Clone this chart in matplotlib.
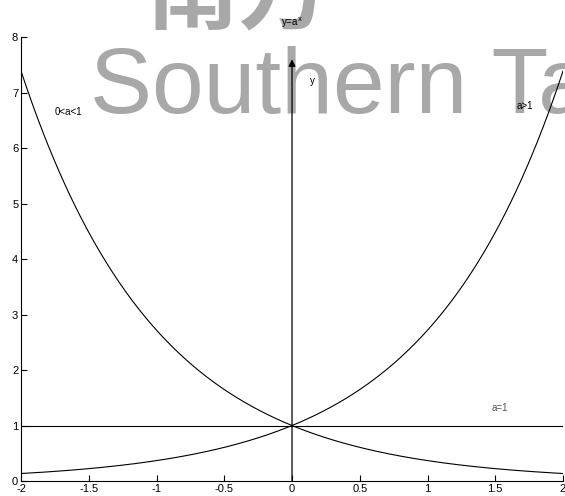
import matplotlib.pyplot as plt
import numpy as np

# data: y = a^x for a = e (a>1), a = 1/e (0<a<1), a = 1
x_min, x_max = -2, 2
y_min, y_max = 0, 8
a_big = np.e
a_small = 1 / np.e
x_ticks = [-2, -1.5, -1, -0.5, 0, 0.5, 1, 1.5, 2]
x_tick_labels = ["-2", "-1.5", "-1", "-0.5", "0", "0.5", "1", "1.5", "2"]
y_ticks = [0, 1, 2, 3, 4, 5, 6, 7, 8]
arrow_top = 7.6

plt.rcParams["font.family"] = ["Liberation Sans", "Noto Sans CJK SC", "DejaVu Sans"]

fig = plt.figure(figsize=(5.65, 4.96), dpi=100)
ax = fig.add_axes([0.0372, 0.0302, 0.9593, 0.895])

# watermark goes under the lines, so draw it inside the axes with low zorder
ax.text(0.159, 0.772, "Southern Ta", fontsize=67, color="#a8a8a8",
        va="baseline", transform=fig.transFigure, clip_on=False, zorder=0)
ax.text(0.26, 1.005, "南方", fontsize=66, color="#a8a8a8", fontweight="bold",
        va="center", transform=fig.transFigure, clip_on=False, zorder=0)

xs = np.linspace(x_min, x_max, 400)
ax.plot(xs, a_big ** xs, color="black", lw=0.8, zorder=2)
ax.plot(xs, a_small ** xs, color="black", lw=0.8, zorder=2)
ax.plot([x_min, x_max], [1, 1], color="black", lw=0.8, zorder=2)
ax.annotate("", xy=(0, arrow_top), xytext=(0, 0),
            arrowprops=dict(arrowstyle="-|>", color="black", lw=0.9,
                            mutation_scale=10, shrinkA=0, shrinkB=0),
            zorder=3)

ax.text(0.13, 7.15, "y", fontsize=7, zorder=3)
ax.text(-1.75, 6.6, "0<a<1", fontsize=7, zorder=3)
ax.text(1.66, 6.7, "a>1", fontsize=7, zorder=3)
ax.text(1.47, 1.27, "a=1", fontsize=7, color="#555555", zorder=3)
ax.set_title(r"y=a$^{\mathrm{x}}$", fontsize=7, pad=8)

ax.set_xlim(x_min, x_max)
ax.set_ylim(y_min, y_max)
ax.set_xticks(x_ticks)
ax.set_xticklabels(x_tick_labels)
ax.set_yticks(y_ticks)
ax.tick_params(direction="in", labelsize=8, length=4, width=0.8, pad=2)
ax.spines["top"].set_visible(False)
ax.spines["right"].set_visible(False)
for s in ("left", "bottom"):
    ax.spines[s].set_linewidth(0.8)

fig.savefig("out.png", dpi=100)
